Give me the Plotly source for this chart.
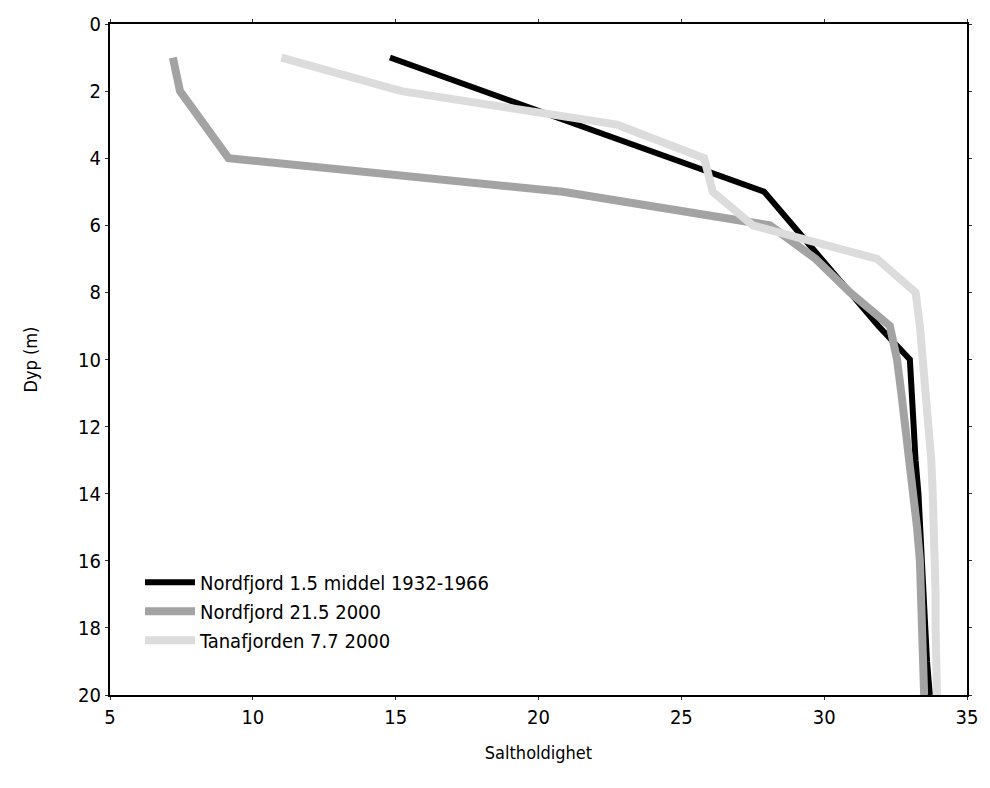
import plotly.graph_objects as go

depth = list(range(1, 21))

nordfjord_mid = [14.8, None, None, None, 27.9, 28.9, 29.9, 30.9, 31.9, 33.0,
                 33.05, 33.1, 33.2, 33.3, 33.35, 33.4, 33.5, 33.55, 33.6, 33.7]
nordfjord_2000 = [7.2, 7.45, 8.3, 9.15, 20.85, 28.1, 29.7, 30.9, 32.3, 32.55,
                  32.7, 32.85, 33.0, 33.15, 33.25, 33.35, 33.4, 33.4, 33.45, 33.5]
tana_2000 = [11.0, 15.2, 22.75, 25.8, 26.1, 27.5, 31.85, 33.2, 33.35, 33.45,
             33.6, 33.7, 33.75, 33.8, 33.85, 33.9, 33.9, 33.9, 33.95, 33.95]

names = ["Nordfjord 1.5 middel 1932-1966", "Nordfjord 21.5 2000", "Tanafjorden 7.7 2000"]
colors = ["#000000", "#a3a3a3", "#dcdcdc"]
widths = [6, 8, 8]

FONT = "DejaVu Sans Condensed, Liberation Sans Narrow, sans-serif"

fig = go.Figure()
for vals, name, col, w in zip([nordfjord_mid, nordfjord_2000, tana_2000], names, colors, widths):
    xs = [v for v in vals if v is not None]
    ys = [d for d, v in zip(depth, vals) if v is not None]
    fig.add_trace(go.Scatter(x=xs, y=ys, mode="lines", name=name,
                             line=dict(color=col, width=w)))

fig.update_layout(
    width=990, height=788,
    margin=dict(l=110, r=23, t=17, b=93),
    paper_bgcolor="white", plot_bgcolor="white",
    font=dict(family=FONT, color="black"),
    showlegend=True,
    legend=dict(x=0.035, y=0.197, xanchor="left", yanchor="top",
                font=dict(size=20, family=FONT), bgcolor="rgba(0,0,0,0)",
                itemwidth=50, tracegroupgap=0),
    xaxis=dict(range=[5, 35], dtick=5, tick0=5, showgrid=False, zeroline=False,
               showline=True, linecolor="black", linewidth=2, mirror="ticks",
               ticks="outside", ticklen=3, tickcolor="#333",
               tickfont=dict(size=20, family=FONT),
               title=dict(text="Saltholdighet", font=dict(size=18, family=FONT), standoff=18)),
    yaxis=dict(range=[20, 0], dtick=2, tick0=0, showgrid=False, zeroline=False,
               showline=True, linecolor="black", linewidth=2, mirror="ticks",
               ticks="outside", ticklen=3, tickcolor="#333",
               tickfont=dict(size=20, family=FONT),
               title=dict(text="Dyp (m)", font=dict(size=18, family=FONT), standoff=36)),
)

fig.write_html("out.html")
